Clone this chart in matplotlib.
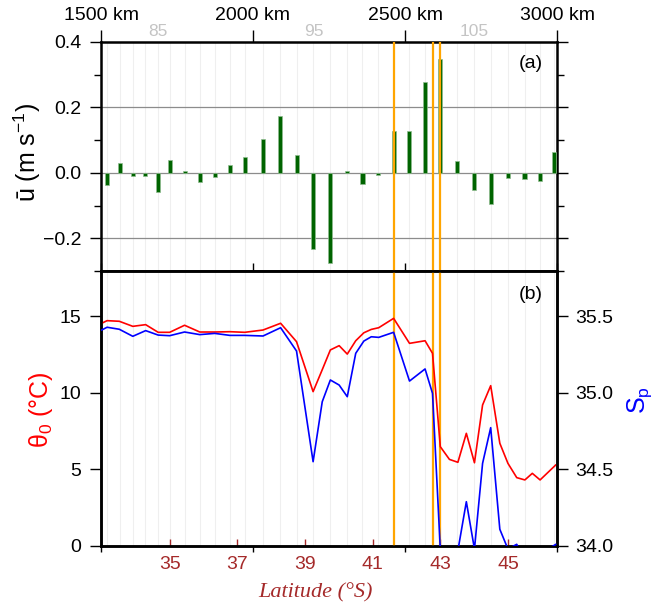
import numpy as np
import matplotlib
matplotlib.use("Agg")
import matplotlib.pyplot as plt
from matplotlib.ticker import MultipleLocator, FuncFormatter
from matplotlib.transforms import blended_transform_factory

plt.rcParams['font.family'] = ['Liberation Sans', 'DejaVu Sans']
plt.rcParams['mathtext.fontset'] = 'custom'
plt.rcParams['mathtext.rm'] = 'Liberation Sans'
plt.rcParams['mathtext.it'] = 'Liberation Sans:italic'
plt.rcParams['mathtext.bf'] = 'Liberation Sans:bold'

# ---- ADCP stations: mean along-track velocity ----
station_num = list(range(81, 111))
station_lat = [33.15, 33.52, 33.92, 34.28, 34.65, 35.01, 35.45, 35.89, 36.33, 36.79,
               37.23, 37.77, 38.27, 38.76, 39.25, 39.74, 40.25, 40.70, 41.16, 41.62,
               42.07, 42.55, 43.00, 43.50, 44.00, 44.51, 45.00, 45.49, 45.94, 46.37]
u_mean = [-0.037, 0.029, -0.010, -0.010, -0.059, 0.040, 0.005, -0.028, -0.013, 0.024,
          0.048, 0.102, 0.175, 0.055, -0.234, -0.277, 0.007, -0.035, -0.007, 0.129,
          0.129, 0.279, 0.349, 0.037, -0.052, -0.094, -0.017, -0.019, -0.024, 0.065]
labelled_stations = [85, 95, 105]

# ---- CTD profiles: surface potential temperature and salinity ----
ctd_lat = [32.99, 33.15, 33.51, 33.91, 34.29, 34.66, 35.00, 35.44, 35.89, 36.33,
           36.78, 37.22, 37.76, 38.28, 38.75, 39.24, 39.51, 39.75, 40.01, 40.25,
           40.50, 40.74, 40.96, 41.18, 41.62, 42.09, 42.55, 42.77, 43.00, 43.27,
           43.52, 43.77, 44.01, 44.25, 44.49, 44.76, 45.00, 45.26, 45.50, 45.72,
           45.95, 46.41]
theta0 = [14.53, 14.70, 14.66, 14.33, 14.44, 13.94, 13.94, 14.40, 13.96, 13.96,
          13.98, 13.94, 14.09, 14.53, 13.33, 10.07, 11.50, 12.79, 13.07, 12.52,
          13.39, 13.91, 14.13, 14.24, 14.85, 13.22, 13.39, 12.57, 6.48, 5.65,
          5.46, 7.35, 5.43, 9.20, 10.46, 6.70, 5.39, 4.46, 4.31, 4.74,
          4.31, 5.28]
salinity = [35.409, 35.427, 35.414, 35.368, 35.405, 35.376, 35.372, 35.396, 35.379, 35.387,
            35.374, 35.374, 35.370, 35.424, 35.272, 34.550, 34.941, 35.083, 35.050, 34.974,
            35.257, 35.337, 35.365, 35.361, 35.394, 35.076, 35.155, 34.996, 33.980, 33.500,
            33.970, 34.289, 33.980, 34.539, 34.772, 34.109, 33.980, 34.011, 33.900, 33.900,
            33.950, 34.010]

# ---- frontal positions ----
front_lat = [41.63, 42.77, 43.00]

lat_ticks = [35, 37, 39, 41, 43, 45]
km_ticks = [1500, 2000, 2500, 3000]
u_ticks = [-0.2, 0.0, 0.2, 0.4]
theta_ticks = [0, 5, 10, 15]
sal_ticks = [34.0, 34.5, 35.0, 35.5]

LAT0, LAT1 = 32.97, 46.45
KM_PER_DEG = 1500.0 / (LAT1 - LAT0)


def lat2km(lat):
    return 1500.0 + (np.asarray(lat) - LAT0) * KM_PER_DEG


def km2lat(km):
    return LAT0 + (np.asarray(km) - 1500.0) / KM_PER_DEG


one_decimal = FuncFormatter(lambda v, pos: f'{v:.1f}'.replace('-', '\u2212'))

BROWN = '#a52a2a'
ORANGE = '#ffa500'
SPINE_W = 1.8

W, H = 654, 604
fig = plt.figure(figsize=(W / 100, H / 100), dpi=100)


def box(x0, y0, x1, y1):
    return [x0 / W, 1 - y1 / H, (x1 - x0) / W, (y1 - y0) / H]


ax_a = fig.add_axes(box(101, 42, 557, 271))
ax_b = fig.add_axes(box(101, 271, 557, 546))

for ax in (ax_a, ax_b):
    ax.set_xlim(LAT0, LAT1)
    for sp in ax.spines.values():
        sp.set_linewidth(SPINE_W)
    for s in station_lat:
        ax.axvline(s, color='#efefef', lw=0.8, zorder=0)
    for f in front_lat:
        ax.axvline(f, color=ORANGE, lw=1.6, zorder=4)

# ---- panel (a): velocity bars ----
ax_a.set_ylim(-0.3, 0.4)
for g in (-0.2, 0.0, 0.2):
    ax_a.axhline(g, color='#8c8c8c', lw=0.9, zorder=1)
ax_a.bar(station_lat, u_mean, width=0.12, color='#006400', edgecolor='#8fbc8f',
         linewidth=0.5, zorder=3)
ax_a.set_yticks(u_ticks)
ax_a.yaxis.set_major_formatter(one_decimal)
ax_a.yaxis.set_minor_locator(MultipleLocator(0.1))
ax_a.tick_params(axis='y', which='major', left=True, right=True, direction='out',
                 length=8, width=1.0, labelsize=14, pad=6)
ax_a.tick_params(axis='y', which='minor', left=True, right=True, direction='out',
                 length=5, width=1.0)
ax_a.set_xticks(km2lat(km_ticks))
ax_a.tick_params(axis='x', bottom=True, top=False, labelbottom=False,
                 direction='inout', length=11, width=1.0)

top = ax_a.secondary_xaxis('top', functions=(lat2km, km2lat))
top.set_xticks(km_ticks)
top.set_xticklabels([f'{k} km' for k in km_ticks])
top.tick_params(direction='out', length=9, width=1.0, labelsize=14, pad=4)
top.spines['top'].set_visible(False)

trans_a = blended_transform_factory(ax_a.transData, ax_a.transAxes)
for n in labelled_stations:
    ax_a.text(station_lat[station_num.index(n)], 1.012, str(n), transform=trans_a,
              ha='center', va='bottom', fontsize=12.5, color='#c4c4c4')

ax_a.text(0.968, 0.945, '(a)', transform=ax_a.transAxes, ha='right', va='top',
          fontsize=14)

# ---- panel (b): temperature and salinity ----
ax_b.set_ylim(0, 17.94)
ax_b.plot(ctd_lat, theta0, color='#ff0000', lw=1.2, zorder=5)
ax_b.set_yticks(theta_ticks)
ax_b.tick_params(axis='y', left=True, right=False, direction='out', length=8,
                 width=1.0, labelsize=14, pad=6)
ax_b.set_xticks(lat_ticks)
ax_b.tick_params(axis='x', bottom=True, top=False, direction='in', length=5,
                 width=1.0, color=BROWN, labelcolor=BROWN, labelsize=14, pad=7)

bot = ax_b.secondary_xaxis('bottom', functions=(lat2km, km2lat))
bot.set_xticks(km_ticks)
bot.set_xticklabels([])
bot.tick_params(direction='out', length=4, width=1.0)
bot.spines['bottom'].set_visible(False)

ax_s = ax_b.twinx()
ax_s.set_ylim(34.0, 34.0 + 17.94 / 10)
ax_s.plot(ctd_lat, salinity, color='#0000ff', lw=1.2, zorder=5)
ax_s.set_yticks(sal_ticks)
ax_s.yaxis.set_major_formatter(one_decimal)
ax_s.tick_params(axis='y', right=True, direction='out', length=8, width=1.0,
                 labelsize=14, pad=5)
for sp in ax_s.spines.values():
    sp.set_linewidth(SPINE_W)

ax_b.text(0.968, 0.945, '(b)', transform=ax_b.transAxes, ha='right', va='top',
          fontsize=14)

# ---- axis titles ----
fig.text(27 / W, 1 - 152 / H, 'ū (m s$^{-1}$)', rotation=90, ha='center',
         va='center', fontsize=18)
fig.text(41 / W, 1 - 410 / H, 'θ$_0$ (°C)', rotation=90, ha='center',
         va='center', fontsize=18, color='#ff0000')
fig.text(640 / W, 1 - 400 / H, 'S$_\\mathrm{p}$', rotation=90, ha='center',
         va='center', fontsize=18, color='#0000ff')
fig.text(315 / W, 1 - 593 / H, 'Latitude (°S)', ha='center', va='center',
         fontsize=16, color=BROWN, family=['Liberation Serif', 'DejaVu Serif'],
         style='italic')

fig.savefig('out.png', dpi=100)
